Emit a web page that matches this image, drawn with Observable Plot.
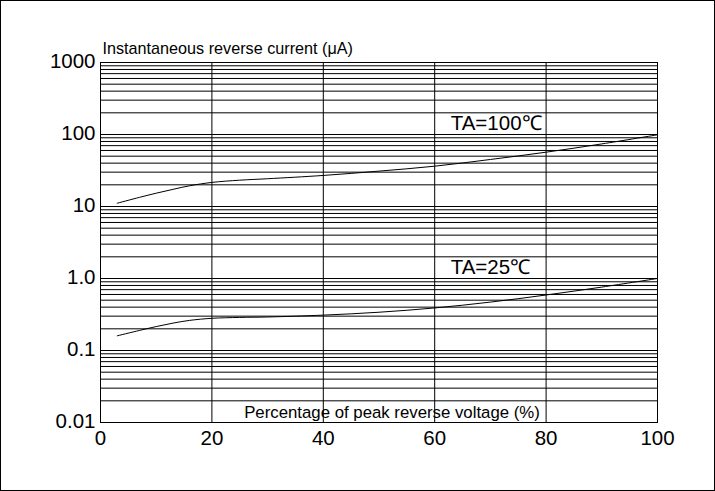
<!DOCTYPE html>
<html><head><meta charset="utf-8">
<script src="https://cdn.jsdelivr.net/npm/d3@7"></script>
<script src="https://cdn.jsdelivr.net/npm/@observablehq/plot@0.6"></script>
<style>
body{margin:0;background:#fff;}
#chart svg{display:block;outline:1px solid #000;outline-offset:-1px;}
</style></head><body><div id="chart"></div>
<script>
const voltagePct = [3, 7, 10, 13, 16, 20, 25, 30, 40, 50, 60, 70, 80, 90, 100];
const current100 = [11.1, 13.4, 15.3, 17.3, 19.4, 21.6, 23.2, 24.3, 27, 31, 36.3, 45, 56.8, 74, 99];
const current25 = [0.16, 0.19, 0.215, 0.24, 0.262, 0.28, 0.288, 0.292, 0.31, 0.34, 0.39, 0.47, 0.59, 0.76, 1.0];
const yTicks = [0.01, 0.1, 1, 10, 100, 1000];
const yTickLabels = ["0.01", "0.1", "1.0", "10", "100", "1000"];
const xTicks = [0, 20, 40, 60, 80, 100];
const xGrid = [20, 40, 60, 80];
const decades = [0.01, 0.1, 1, 10, 100];
const mantissas = [1, 2, 3, 4, 5, 6, 7, 8, 9];
const curveLabels = ["TA=100℃", "TA=25℃"];
const curveLabelX = [60, 60];
const curveLabelY = [100, 1];
const yTitle = "Instantaneous reverse current (μA)";
const xTitle = "Percentage of peak reverse voltage (%)";

const gridY = decades.flatMap(d => mantissas.map(m => d * m)).concat([1000]);
const data100 = voltagePct.map((v, i) => ({v, c: current100[i]}));
const data25 = voltagePct.map((v, i) => ({v, c: current25[i]}));

const plot = Plot.plot({
  width: 715, height: 491,
  marginLeft: 100, marginRight: 58, marginTop: 62, marginBottom: 69,
  style: {fontFamily: "'Liberation Sans', Arial, Helvetica, sans-serif", background: "#fff", color: "#000"},
  x: {domain: [0, 100]},
  y: {type: "log", domain: [0.01, 1000]},
  marks: [
    Plot.ruleY(gridY, {stroke: "#000", strokeWidth: 1}),
    Plot.ruleX(xGrid, {stroke: "#000", strokeWidth: 1}),
    Plot.frame({stroke: "#000"}),
    Plot.line(data100, {x: "v", y: "c", curve: "catmull-rom", stroke: "#000", strokeWidth: 1}),
    Plot.line(data25, {x: "v", y: "c", curve: "catmull-rom", stroke: "#000", strokeWidth: 1}),
    Plot.axisY(yTicks, {tickSize: 0, tickPadding: 5, fontSize: 20.5, dy: -1, label: null,
      tickFormat: d => yTickLabels[yTicks.indexOf(d)]}),
    Plot.axisX(xTicks, {tickSize: 0, tickPadding: 8, fontSize: 20.5, label: null}),
    Plot.text([yTitle], {frameAnchor: "top-left", dx: 2, dy: -9, lineAnchor: "bottom", textAnchor: "start", fontSize: 16.2, fill: "#000"}),
    Plot.text([xTitle], {frameAnchor: "bottom", dx: 13, dy: -5, lineAnchor: "bottom", fontSize: 16.8, fill: "#000", ariaLabel: "x-title"}),
    Plot.text(curveLabels, {x: curveLabelX, y: curveLabelY, text: d => d, textAnchor: "start", dx: 16, dy: -5, lineAnchor: "bottom", fontSize: 20.5, fill: "#000", ariaLabel: "curve-labels"})
  ]
});
document.getElementById("chart").append(plot);

const ns = "http://www.w3.org/2000/svg";
plot.querySelectorAll('g[aria-label="curve-labels"] text').forEach(t => {
  const s = t.textContent;
  t.textContent = "";
  const add = (str, size) => {
    const ts = document.createElementNS(ns, "tspan");
    ts.textContent = str;
    if (size) ts.setAttribute("font-size", size);
    t.appendChild(ts);
  };
  add(s[0]); add(s[1], 15); add(s.slice(2));
});

const xl = plot.querySelector('g[aria-label="x-title"] text');
if (xl) {
  const bb = xl.getBBox();
  const r = document.createElementNS(ns, "rect");
  r.setAttribute("x", bb.x - 2);
  r.setAttribute("width", bb.width + 7);
  r.setAttribute("y", Math.max(bb.y - 0.5, 400.8));
  r.setAttribute("height", Math.min(bb.height + 1, 421.2 - Math.max(bb.y - 0.5, 400.8)));
  r.setAttribute("fill", "#fff");
  const tr = xl.getAttribute("transform");
  if (tr) r.setAttribute("transform", tr);
  xl.parentNode.insertBefore(r, xl);
}
</script></body></html>
